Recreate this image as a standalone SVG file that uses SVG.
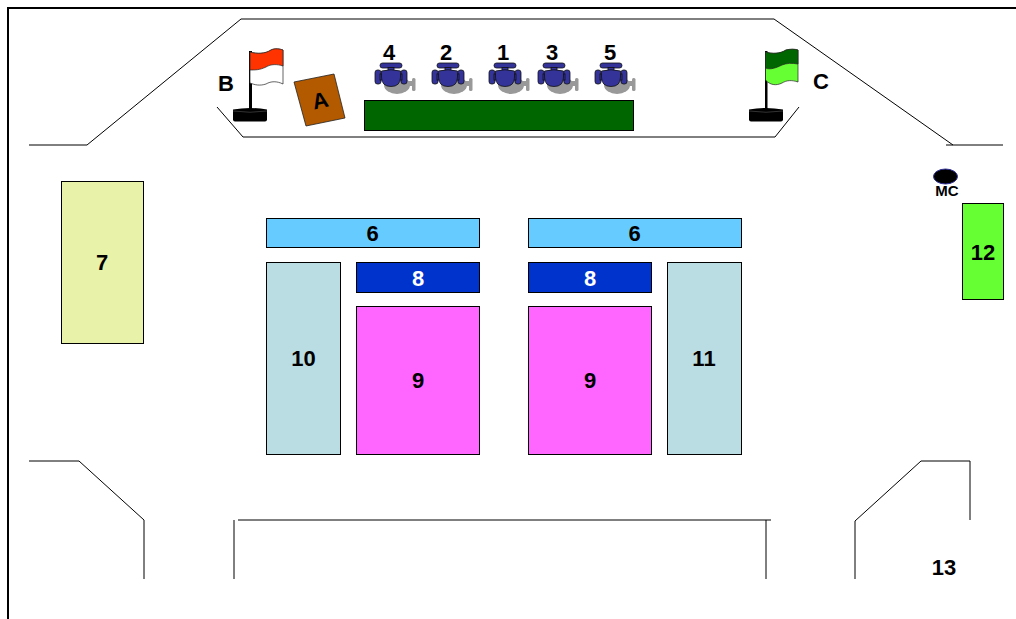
<svg xmlns="http://www.w3.org/2000/svg" xmlns:xlink="http://www.w3.org/1999/xlink" width="1016" height="619" viewBox="0 0 1016 619">
<style>
text{font-family:"Liberation Sans",Arial,sans-serif;font-weight:bold;fill:#000;text-anchor:middle}
.t{font-size:22px}
.b{stroke:#000;stroke-width:1}
.w{fill:none;stroke:#000;stroke-width:1}
</style>
<defs>
<g id="valve">
<g fill="#999">
<ellipse cx="6" cy="9" rx="13" ry="9"/>
<rect x="17" y="5" width="7" height="5"/>
<rect x="21" y="2" width="3.500" height="13" rx="1.500"/>
</g>
<g fill="#333399" stroke="#111" stroke-width="0.800">
<rect x="-11" y="-13" width="22" height="5" rx="2.500"/>
<rect x="-3" y="-8.500" width="6" height="3"/>
<rect x="-16" y="-6" width="6" height="14" rx="2.500"/>
<rect x="10" y="-6" width="6" height="14" rx="2.500"/>
<rect x="-11" y="-2" width="22" height="6"/>
<path d="M-9.500 -5 Q0 -7.500 9.500 -5 V1 Q9.500 10.500 0 10.500 Q-9.500 10.500 -9.500 1Z"/>
</g>
</g>
<g id="base">
<path d="M-17 2 Q0 -1 17 2 V12 Q17 14 15 14 H-15 Q-17 14 -17 12Z" fill="#000"/>
<path d="M-17 3.500 Q0 6 17 3.500" fill="none" stroke="#555" stroke-width="0.600"/>
</g>
</defs>
<rect width="1016" height="619" fill="#fff"/>
<g id="connectors">
<path d="M8 619V8H1016" fill="none" stroke="#000" stroke-width="2"/>
<path class="w" d="M29 145H87L241 19H774L953 145"/>
<path class="w" d="M946 145H1003"/>
<path class="w" d="M217 107L243 137H775L799 107"/>
<path class="w" d="M29 461H79L144 520V579"/>
<path class="w" d="M234 520V579"/>
<path class="w" d="M238 520H771"/>
<path class="w" d="M766 520V579"/>
<path class="w" d="M855 579V521L921 461H970V520"/>
</g>
<g id="flag-b">
<use xlink:href="#base" x="250" y="107.500"/>
<rect x="249" y="51" width="3" height="58" fill="#000"/>
<path d="M250 52C257 54 265 54 271 50C275 48 280 49 283 50V84C277 81 271 81 266 84C260 86 255 85 250 83Z" fill="#fff" stroke="#222" stroke-width="0.700"/>
<path d="M250 52C257 54 265 54 271 50C275 48 280 49 283 50V66C277 64 271 64 266 67C260 70 255 70 250 70Z" fill="#ff3300" stroke="#222" stroke-width="0.700"/>
<text class="t" x="226" y="91">B</text>
</g>
<g id="node-a">
<polygon points="294,82 334,74 345,118 306,126" fill="#b35900" stroke="#222" stroke-width="0.800"/>
<text class="t" x="320" y="108" transform="rotate(-12 320 100)">A</text>
</g>
<g id="stage"><rect x="364.500" y="100.500" width="269" height="30" fill="#006600" stroke="#000" stroke-width="1"/></g>
<g id="valve-4"><use xlink:href="#valve" x="391" y="76"/><text class="t" x="389" y="60">4</text></g>
<g id="valve-2"><use xlink:href="#valve" x="448" y="76"/><text class="t" x="446" y="60">2</text></g>
<g id="valve-1"><use xlink:href="#valve" x="505" y="76"/><text class="t" x="503" y="60">1</text></g>
<g id="valve-3"><use xlink:href="#valve" x="554" y="76"/><text class="t" x="552" y="60">3</text></g>
<g id="valve-5"><use xlink:href="#valve" x="611" y="76"/><text class="t" x="610" y="60">5</text></g>
<g id="flag-c">
<use xlink:href="#base" x="766" y="107.500"/>
<rect x="765" y="51" width="2.500" height="58" fill="#000"/>
<path d="M765.500 52C772 54 780 54 786 50C790 49 795 49 798 50V82C792 80 787 80 782 83C776 86 770 85 765.500 80Z" fill="#66ff33" stroke="#222" stroke-width="0.700"/>
<path d="M765.500 52C772 54 780 54 786 50C790 49 795 49 798 50V64C792 63 787 63 782 65C776 68 770 70 765.500 68Z" fill="#006600" stroke="#222" stroke-width="0.700"/>
<text class="t" x="821" y="89">C</text>
</g>
<g id="node-mc"><ellipse cx="945.500" cy="176.500" rx="12" ry="7.500" fill="#000" stroke="#333399" stroke-width="1"/><text x="947" y="196" font-size="15">MC</text></g>
<g id="node-7"><rect class="b" x="61.500" y="181.500" width="82" height="162" fill="#e9f2a9"/><text class="t" x="102" y="270">7</text></g>
<g id="node-6a"><rect class="b" x="266.500" y="218.500" width="213" height="29" fill="#66ccff"/><text class="t" x="372.500" y="241">6</text></g>
<g id="node-6b"><rect class="b" x="528.500" y="218.500" width="213" height="29" fill="#66ccff"/><text class="t" x="634.500" y="241">6</text></g>
<g id="node-8a"><rect class="b" x="356.500" y="262.500" width="123" height="30" fill="#0033cc"/><text class="t" x="418" y="286" style="fill:#fff">8</text></g>
<g id="node-8b"><rect class="b" x="528.500" y="262.500" width="123" height="30" fill="#0033cc"/><text class="t" x="590" y="286" style="fill:#fff">8</text></g>
<g id="node-9a"><rect class="b" x="356.500" y="306.500" width="123" height="148" fill="#ff66ff"/><text class="t" x="418" y="388">9</text></g>
<g id="node-9b"><rect class="b" x="528.500" y="306.500" width="123" height="148" fill="#ff66ff"/><text class="t" x="590" y="388">9</text></g>
<g id="node-10"><rect class="b" x="266.500" y="262.500" width="74" height="192" fill="#b9dde3"/><text class="t" x="303.500" y="366">10</text></g>
<g id="node-11"><rect class="b" x="667.500" y="262.500" width="74" height="192" fill="#b9dde3"/><text class="t" x="704" y="366">11</text></g>
<g id="node-12"><rect class="b" x="962.500" y="203.500" width="41" height="96" fill="#66ff33"/><text class="t" x="983" y="260">12</text></g>
<g id="node-13"><text class="t" x="944" y="575">13</text></g>
</svg>
